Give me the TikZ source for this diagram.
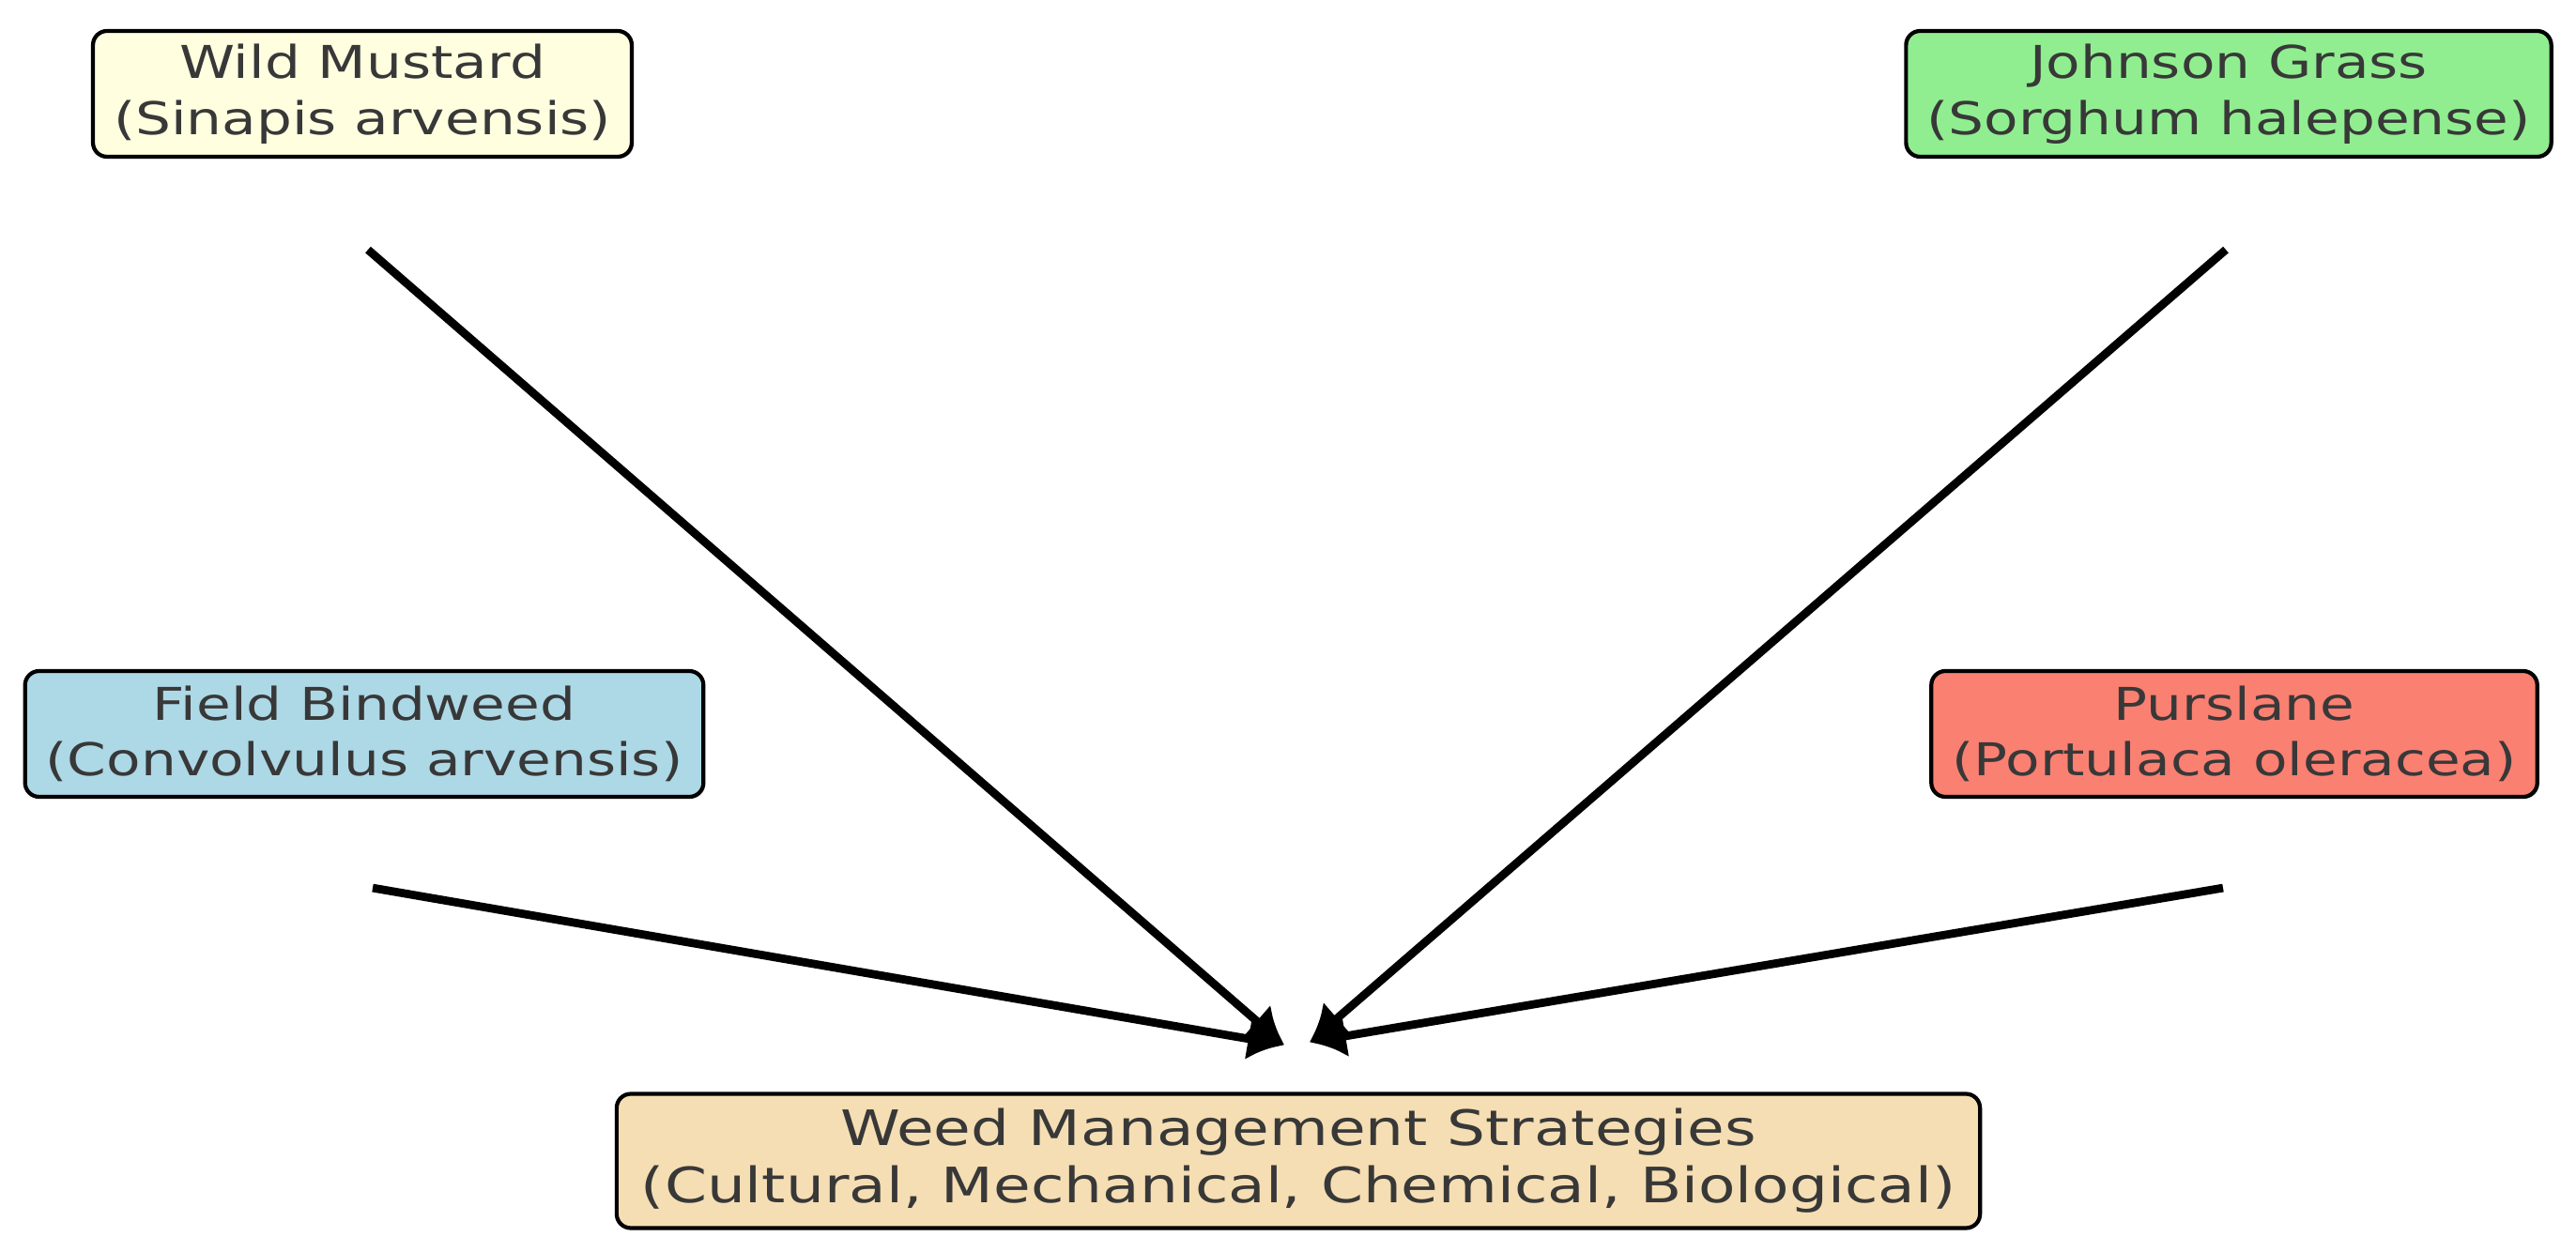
\documentclass[tikz,border=0pt]{standalone}
\usepackage{fontspec}
\setmainfont{DejaVu Sans}[FakeStretch=1.24]
\usepackage{tikz}
\usetikzlibrary{arrows.meta, positioning, shadows}

\begin{document}
\begin{tikzpicture}
        [weed/.style ={rectangle, draw=black, line width=1.2pt, rounded corners=0.15cm,
        align=center, text=black!78, inner xsep=0.22cm, minimum height=1.34cm,
        font=\fontsize{13.7}{17}\selectfont,
        drop shadow={shadow xshift=0.6pt, shadow yshift=-0.6pt, opacity=0.25}},
        strategy/.style ={weed, inner xsep=0.26cm, minimum height=1.43cm,
        font=\fontsize{14.8}{17.4}\selectfont},
        line/.style ={draw, line width=2.5pt, -{Latex[length=11pt,width=13pt]}}]
        \useasboundingbox (0,0) rectangle (27.44,13.33);
        % top row
        \node [weed, fill={rgb,255:red,255;green,255;blue,224}] (mustard) at (3.86,12.33)
            {Wild Mustard\\(Sinapis arvensis)};
        \node [weed, fill={rgb,255:red,144;green,238;blue,144}] (johnson) at (23.74,12.33)
            {Johnson Grass\\(Sorghum halepense)};
        % middle row
        \node [weed, fill={rgb,255:red,173;green,216;blue,230}] (bindweed) at (3.88,5.51)
            {Field Bindweed\\(Convolvulus arvensis)};
        \node [weed, fill={rgb,255:red,250;green,128;blue,114}] (purslane) at (23.80,5.51)
            {Purslane\\(Portulaca oleracea)};
        % bottom row
        \node [strategy, fill={rgb,255:red,245;green,222;blue,179}] (strategies) at (13.83,0.96)
            {Weed Management Strategies\\(Cultural, Mechanical, Chemical, Biological)};
        % arrow ends
        \coordinate (mustard-tail) at ([xshift=0.06cm, yshift=-0.97cm]mustard.south);
        \coordinate (johnson-tail) at ([xshift=-0.03cm, yshift=-0.97cm]johnson.south);
        \coordinate (bindweed-tail) at ([xshift=0.09cm, yshift=-0.95cm]bindweed.south);
        \coordinate (purslane-tail) at ([xshift=-0.12cm, yshift=-0.95cm]purslane.south);
        \coordinate (left-tip) at ([xshift=-0.15cm, yshift=0.5cm]strategies.north);
        \coordinate (right-tip) at ([xshift=0.12cm, yshift=0.53cm]strategies.north);
        \begin{scope}[every path/.style=line]
            \path (mustard-tail) -- (left-tip);
            \path (bindweed-tail) -- (left-tip);
            \path (johnson-tail) -- (right-tip);
            \path (purslane-tail) -- (right-tip);
        \end{scope}
    \end{tikzpicture}
\end{document}
